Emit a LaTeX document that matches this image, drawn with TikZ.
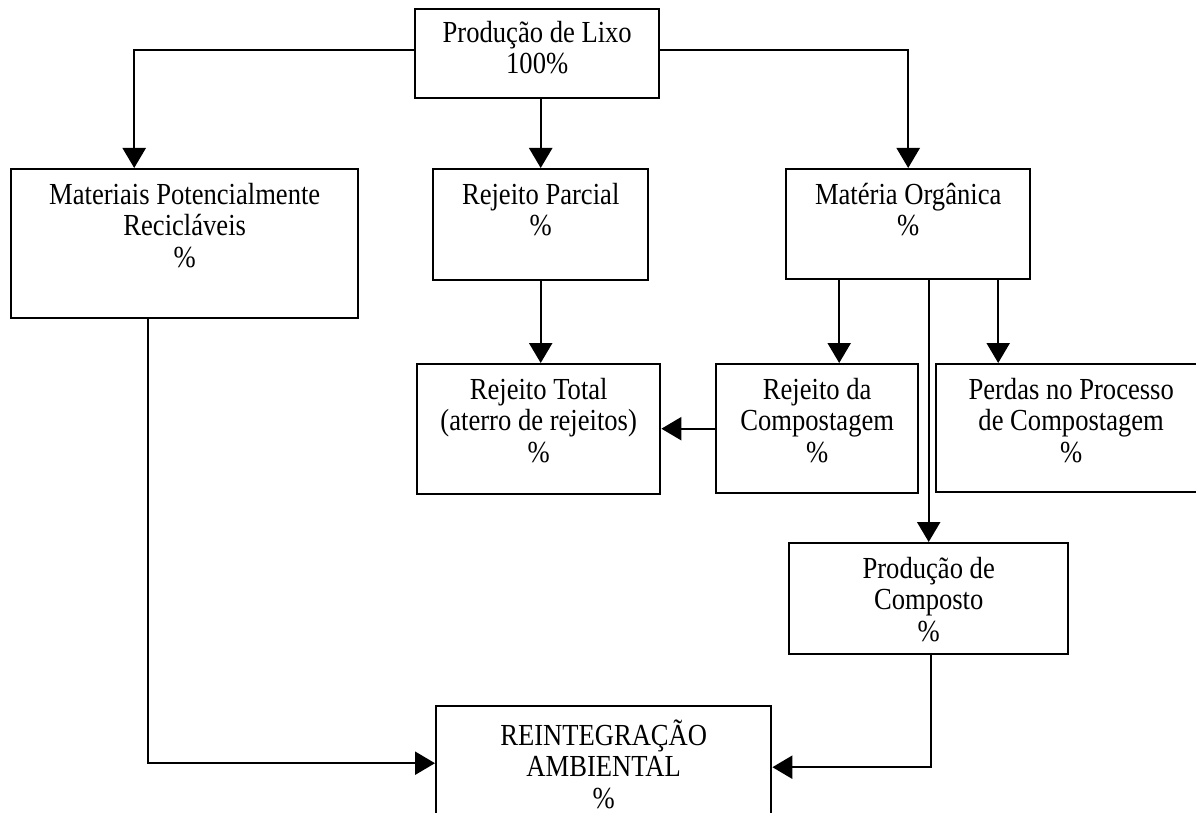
\documentclass[tikz,border=0pt]{standalone}
\usepackage{graphicx}
\usepackage{fontspec}
\setmainfont{Liberation Serif}
\usetikzlibrary{arrows.meta,calc}
% centred lines of box text, set slightly tall
\newcommand\tallstack[1]{\scalebox{1}[1.15]{\begin{tabular}{@{}c@{}}#1\end{tabular}}}
\begin{document}
\begin{tikzpicture}[x=0.5pt,y=-0.5pt,
  box/.style={draw, line width=1.2pt, inner sep=0pt, anchor=north west},
  lbl/.style={anchor=north, inner sep=0pt,
    font=\fontsize{13.3}{13.7}\selectfont},
  flow/.style={line width=1.2pt, -{Triangle[length=10pt,width=11.5pt]}}]
\clip (0,0) rectangle (1196,813);
\fill[white] (0,0) rectangle (1196,813);

% boxes
\node[box, minimum width=122pt,   minimum height=44.5pt] (lixo)   at (414,8)   {};
\node[box, minimum width=173.5pt, minimum height=74.5pt] (mat)    at (10,168)  {};
\node[box, minimum width=107.5pt, minimum height=55.5pt] (parc)   at (432,168) {};
\node[box, minimum width=122pt,   minimum height=55pt]   (org)    at (785,168) {};
\node[box, minimum width=121.5pt, minimum height=65pt]   (total)  at (416,363) {};
\node[box, minimum width=101pt,   minimum height=64.5pt] (rcomp)  at (715,363) {};
\node[box, minimum width=135pt,   minimum height=64pt]   (perdas) at (935,363) {};
\node[box, minimum width=139.5pt, minimum height=55.5pt] (prodc)  at (788,542) {};
\node[box, minimum width=167.5pt, minimum height=67.5pt] (reint)  at (435,705) {};

% labels
\node[lbl] (lixoT)   at ([yshift=-6pt]lixo.north)  {\tallstack{Produção de Lixo\\100\%}};
\node[lbl] (matT)    at ([yshift=-7pt]mat.north)     {\tallstack{Materiais Potencialmente\\Recicláveis\\\%}};
\node[lbl] (parcT)   at ([yshift=-7pt]parc.north)    {\tallstack{Rejeito Parcial\\\%}};
\node[lbl] (orgT)    at ([yshift=-7pt]org.north)     {\tallstack{Matéria Orgânica\\\%}};
\node[lbl] (totalT)  at ([yshift=-7pt]total.north)   {\tallstack{Rejeito Total\\(aterro de rejeitos)\\\%}};
\node[lbl] (rcompT)  at ([yshift=-7pt]rcomp.north)   {\tallstack{Rejeito da\\Compostagem\\\%}};
\node[lbl] (perdasT) at ([yshift=-7pt]perdas.north)  {\tallstack{Perdas no Processo\\de Compostagem\\\%}};
\node[lbl] (prodcT)  at ([yshift=-7pt]prodc.north)   {\tallstack{Produção de\\Composto\\\%}};
\node[lbl] (reintT)  at ([yshift=-7pt]reint.north)   {\tallstack{REINTEGRAÇÃO\\AMBIENTAL\\\%}};

% connectors
\draw[flow] ([yshift=1.75pt]lixo.west) -| ([xshift=-25.25pt]mat.north);
\draw[flow] ([yshift=1.75pt]lixo.east) -| (org.north);
\draw[flow] (parc.north |- lixo.south) -- (parc.north);
\draw[flow] (parc.south) -- (parc.south |- total.north);
\draw[flow] ([xshift=-34.5pt]org.south) -- ([xshift=-34.5pt]org.south |- rcomp.north);
\draw[flow] (prodc.north |- org.south) -- (prodc.north);
\draw[flow] ([xshift=45pt]org.south) -- ([xshift=45pt]org.south |- perdas.north);
\draw[flow] (rcomp.west) -- (rcomp.west -| total.east);
\draw[flow] ([xshift=-18.25pt]mat.south) |- ([yshift=5.25pt]reint.west);
\draw[flow] ([xshift=1.25pt]prodc.south) |- ([yshift=3.25pt]reint.east);
\end{tikzpicture}
\end{document}
